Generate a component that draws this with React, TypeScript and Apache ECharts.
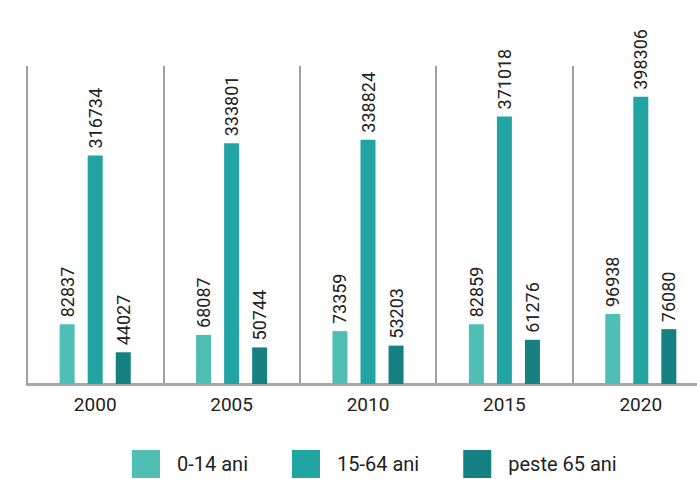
import React, { useEffect, useRef } from "react";
import * as echarts from "echarts";

const years = ["2000", "2005", "2010", "2015", "2020"];
const seriesNames = ["0-14 ani", "15-64 ani", "peste 65 ani"];
const age0to14 = [82837, 68087, 73359, 82859, 96938];
const age15to64 = [316734, 333801, 338824, 371018, 398306];
const age65plus = [44027, 50744, 53203, 61276, 76080];
const colors = ["#4fbfb3", "#22a4a3", "#158183"];

export default function App() {
  const ref = useRef<HTMLDivElement>(null);
  useEffect(() => {
    if (!ref.current) return;
    const chart = echarts.init(ref.current, null, { renderer: "svg" });
    const data = [age0to14, age15to64, age65plus];
    chart.setOption({
      animation: false,
      textStyle: { fontFamily: "Roboto" },
      grid: { left: 27, right: 0, top: 66, bottom: 95 },
      legend: {
        left: 132,
        top: 450,
        padding: 0,
        itemWidth: 28,
        itemHeight: 28,
        itemGap: 44,
        icon: "rect",
        data: seriesNames,
        textStyle: {
          fontFamily: "Roboto",
          fontSize: 20,
          color: "#222",
          padding: [0, 0, 0, 12],
        },
      },
      xAxis: {
        type: "category",
        data: years,
        axisTick: { show: false },
        axisLine: { lineStyle: { color: "#a8a8a8", width: 3 } },
        splitLine: { show: true, lineStyle: { color: "#a0a0a0", width: 2 } },
        axisLabel: { fontFamily: "Roboto", fontSize: 19, color: "#222", margin: 11 },
      },
      yAxis: { type: "value", show: false, min: 0, max: 441000, splitLine: { show: false } },
      series: seriesNames.map((name, i) => ({
        name,
        type: "bar",
        data: data[i],
        barWidth: 15,
        barGap: "87%",
        itemStyle: { color: colors[i] },
        label: {
          show: true,
          position: "top",
          rotate: 90,
          align: "left",
          verticalAlign: "middle",
          distance: 7,
          fontFamily: "Roboto",
          fontSize: 18,
          color: "#222",
        },
      })),
    });
    return () => chart.dispose();
  }, []);
  return (
    <div style={{ position: "absolute", left: 0, top: 0, width: 697, height: 479, overflow: "hidden" }}>
      <div ref={ref} style={{ width: 709, height: 479 }} />
    </div>
  );
}
